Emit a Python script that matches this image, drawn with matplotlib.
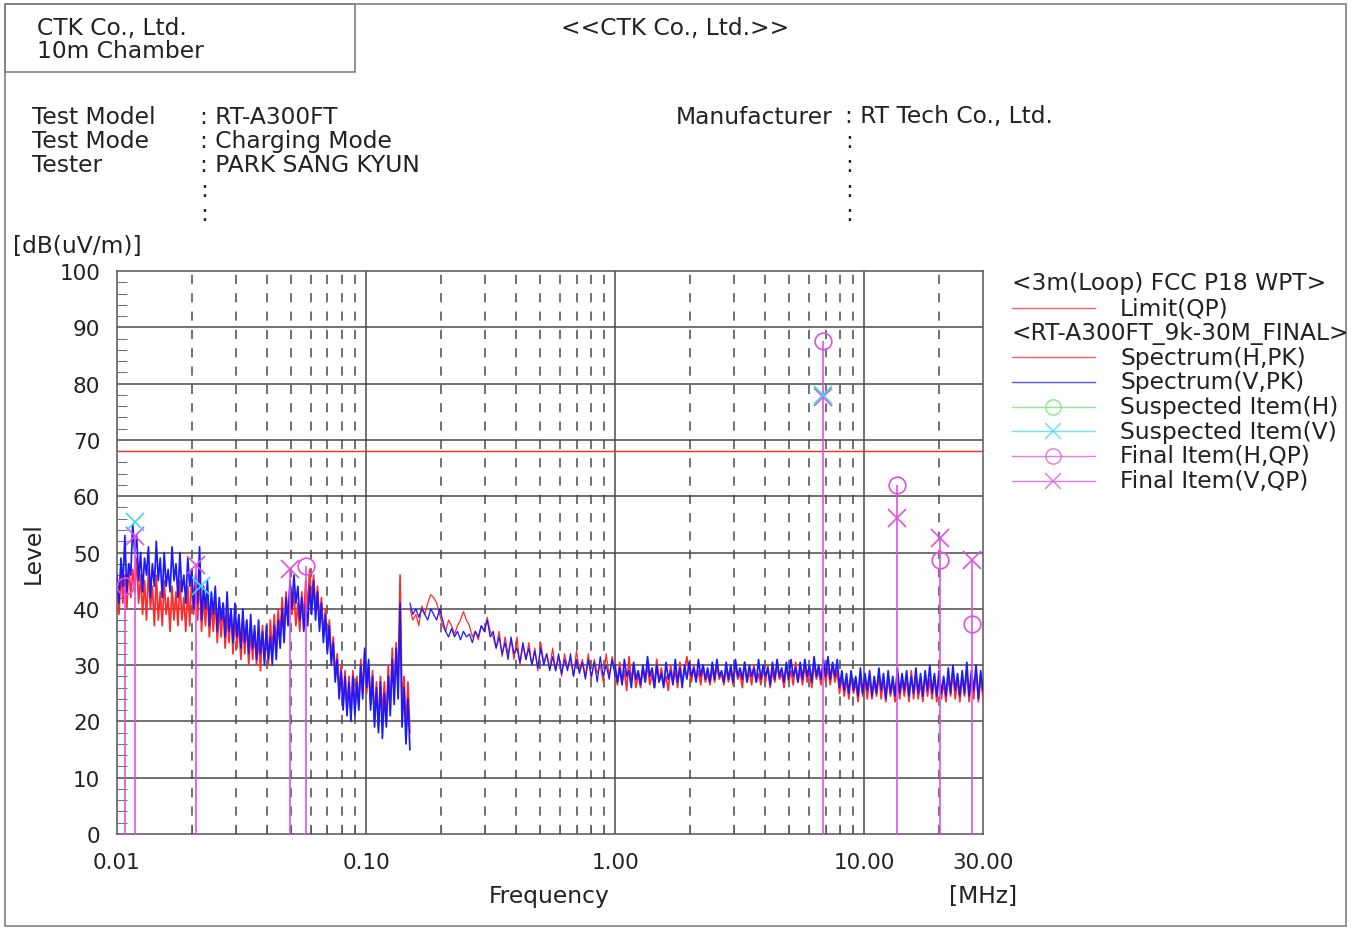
import numpy as np
import matplotlib
matplotlib.use("Agg")
from matplotlib import pyplot as plt
from matplotlib.patches import Rectangle
from matplotlib.lines import Line2D

plt.rcParams['font.family'] = ['DejaVu Sans']

W, H = 1356, 929

# ---- spectrum data (dBuV/m) ----
# band 1 : 0.01 - 0.15 MHz
seg1_f = np.geomspace(0.01, 0.15, 150)
seg1_v = [46, 41, 49, 44, 53, 43, 48, 46, 55, 50,
          53, 45, 50, 43, 49, 46, 51, 42, 48, 44,
          52, 45, 49, 42, 50, 44, 47, 43, 51, 45,
          48, 42, 50, 43, 46, 41, 49, 44, 47, 40,
          46, 41, 51, 38, 44, 40, 45, 37, 43, 39,
          44, 36, 42, 38, 41, 35, 43, 36, 40, 34,
          41, 35, 39, 33, 40, 34, 38, 32, 39, 33,
          37, 31, 38, 32, 36, 30, 37, 31, 35, 30,
          37, 31, 38, 33, 40, 34, 42, 37, 45, 40,
          46, 41, 44, 38, 42, 36, 41, 37, 44, 39,
          45, 38, 43, 36, 41, 34, 39, 32, 37, 30,
          34, 27, 31, 24, 29, 22, 28, 21, 27, 20,
          28, 21, 27, 22, 30, 24, 33, 26, 31, 22,
          28, 19, 26, 18, 27, 17, 25, 19, 28, 21,
          31, 23, 33, 24, 41, 19, 26, 16, 24, 15]
seg1_h = [44, 39, 47, 41, 46, 40, 48, 42, 47, 43,
          49, 41, 46, 39, 45, 38, 47, 40, 44, 37,
          46, 38, 43, 37, 45, 39, 42, 36, 44, 38,
          43, 37, 45, 38, 42, 36, 44, 37, 46, 39,
          44, 38, 46, 36, 42, 37, 43, 35, 41, 36,
          42, 34, 40, 35, 41, 33, 39, 34, 40, 32,
          39, 33, 38, 31, 37, 32, 38, 30, 36, 31,
          36, 30, 35, 29, 37, 31, 36, 30, 38, 32,
          39, 33, 40, 35, 42, 36, 43, 38, 44, 39,
          43, 37, 41, 36, 43, 38, 45, 40, 47, 41,
          46, 40, 44, 38, 42, 35, 40, 33, 38, 31,
          35, 28, 32, 25, 30, 23, 29, 22, 28, 21,
          29, 22, 28, 23, 31, 25, 32, 25, 30, 23,
          29, 20, 27, 19, 28, 21, 27, 20, 30, 22,
          33, 25, 34, 26, 46, 22, 28, 19, 27, 18]

# band 2a : 0.15 - 1 MHz
seg2a_f = np.geomspace(0.15, 1.0, 70)
seg2a_v = [41, 39, 40, 38.5, 40, 39, 38, 40, 39, 38,
           40, 38, 36, 35, 36.5, 35, 36, 34.5, 36, 35,
           35.5, 34, 36, 35, 37, 36, 38, 35, 36, 33,
           35, 32, 34, 31, 35, 32, 33, 30.5, 34, 31,
           33, 30, 32.5, 29.5, 33, 30, 32, 29, 31.5, 29,
           32, 28.5, 31, 29, 32, 28, 31, 28.5, 30.5, 27.5,
           31, 28, 30.5, 27, 31.5, 28, 30, 27.5, 31, 28]
seg2a_h = [40, 38, 39, 37, 40.5, 39, 41, 42.5, 42, 41,
           39, 37, 36, 38, 37, 35.5, 37, 38, 39.5, 38,
           37, 35, 36, 34.5, 37, 36, 38.5, 36, 35, 33,
           36, 31.5, 35, 32, 34.5, 31, 35, 30, 33.5, 31,
           34, 30, 33, 29, 34, 30.5, 32, 29.5, 33, 29,
           31.5, 28, 32, 29.5, 31, 28, 32.5, 29, 31, 28,
           32, 27.5, 31, 28.5, 30, 27, 32, 28, 31.5, 29]

# band 2b : 1 - 30 MHz
seg2b_f = np.geomspace(1.0, 30.0, 160)
seg2b_v = [30, 27, 29.5, 26.5, 31, 28, 29, 26, 30.5, 27.5,
           29, 26.5, 30, 27, 31.5, 28, 29.5, 26, 30, 27,
           28.5, 26, 30.5, 27.5, 29, 26.5, 31, 27, 29.5, 26,
           30, 27.5, 30.5, 28, 29.5, 27, 31, 28, 30, 27.5,
           29.5, 27, 30.5, 27.5, 31, 28, 29, 27, 30.5, 27.5,
           30, 27, 31, 28, 29.5, 27.5, 30.5, 27, 30, 28,
           29.5, 27, 31, 27.5, 30, 28, 29.5, 26.5, 30.5, 27.5,
           31, 28, 29.5, 27, 30.5, 27.5, 31, 28, 29.5, 27,
           30.5, 27.5, 31, 28, 30, 27, 31.5, 28, 30, 27.5,
           31, 28, 31.5, 27.5, 30.5, 28, 31, 26, 29, 25.5,
           28.5, 25, 29, 25.5, 28, 24.5, 29.5, 25, 28.5, 25.5,
           29, 24.5, 28, 25, 29.5, 25.5, 28.5, 24, 29, 25,
           28, 24.5, 29.5, 25, 28.5, 25.5, 29, 24.5, 28, 25,
           29.5, 25, 28.5, 24.5, 29, 25.5, 30, 25, 28.5, 24.5,
           29, 25, 28, 24.5, 29.5, 25, 30, 25.5, 28.5, 24.5,
           29, 25, 30.5, 24.5, 29, 25.5, 30, 24, 29, 25.5]
seg2b_h = [29, 26.5, 30.5, 27, 29, 25.5, 31.5, 27, 30, 26,
           28.5, 26, 29.5, 27, 30, 26.5, 28.5, 26, 31, 27,
           29.5, 26.5, 28, 25.5, 30, 27, 29, 26, 30.5, 27,
           29, 31.5, 29, 27, 30, 27.5, 29, 26.5, 30, 27,
           28.5, 26.5, 29.5, 27, 30, 27.5, 28.5, 26.5, 29.5, 27,
           29, 26.5, 30, 27.5, 28.5, 26, 30.5, 27, 29, 26.5,
           30, 27, 28.5, 26.5, 29.5, 27, 30, 26, 29, 27,
           30, 27.5, 28.5, 26, 30, 27, 29, 26.5, 30.5, 27,
           29, 26.5, 30, 27, 29, 26, 30.5, 27.5, 29, 26.5,
           30, 27, 29.5, 26.5, 30, 27, 29, 25, 28, 24.5,
           27.5, 24, 28.5, 25, 27, 23.5, 28, 24.5, 27.5, 24,
           28, 24, 27, 24.5, 28.5, 24, 27.5, 23.5, 28, 24.5,
           27, 23.5, 28.5, 24, 27.5, 24.5, 28, 23.5, 29, 24,
           28, 24, 27, 23.5, 28.5, 24.5, 27.5, 24, 28, 23.5,
           28.5, 24, 27, 23.5, 28, 24.5, 29, 24, 27.5, 23.5,
           28, 24.5, 29, 23.5, 28, 24, 29.5, 23.5, 28, 24]

limit_qp = 68.0

# final / suspected items
final_f = [0.0108, 0.0118, 0.0208, 0.0495, 0.0574, 6.84, 13.57, 20.2, 27.2]
final_h = [44.0, np.nan, np.nan, np.nan, 47.6, 87.6, 62.0, 48.7, 37.3]
final_v = [np.nan, 53.0, 47.8, 47.0, np.nan, 77.6, 56.1, 52.6, 48.7]
susp_v_f = [0.0118, 0.0218, 6.84]
susp_v = [55.5, 44.0, 78.0]

x_ticks = [0.01, 0.1, 1.0, 10.0, 30.0]
x_tick_labels = ['0.01', '0.10', '1.00', '10.00', '30.00']

RED = '#ff2a2a'
BLUE = '#1a1aff'
MAG = '#e050e0'
CYAN = '#40d8f0'
GREEN = '#70e070'


def fx(x):
    return x / W


def fy(y):
    return 1 - y / H


fig = plt.figure(figsize=(W / 100, H / 100), dpi=100)

# page frame and header box
fig.add_artist(Rectangle((fx(5), fy(927)), fx(1346) - fx(5), fy(5) - fy(927),
                         transform=fig.transFigure, fill=False, ec='#808080', lw=1.2))
fig.add_artist(Rectangle((fx(5), fy(73)), fx(355) - fx(5), fy(5) - fy(73),
                         transform=fig.transFigure, fill=False, ec='#808080', lw=1.2))

tkw = dict(fontsize=16.8, color='#222222', va='center')
fig.text(fx(37), fy(28), 'CTK Co., Ltd.', **tkw)
fig.text(fx(37), fy(52), '10m Chamber', **tkw)
fig.text(fx(675), fy(28), '<<CTK Co., Ltd.>>', ha='center', **tkw)

rows = [('Test Model', ': RT-A300FT'), ('Test Mode', ': Charging Mode'),
        ('Tester', ': PARK SANG KYUN'), ('', ':'), ('', ':')]
for i, (k, v) in enumerate(rows):
    y = 117 + i * 24.5
    fig.text(fx(32), fy(y), k, **tkw)
    fig.text(fx(200), fy(y), v, **tkw)
man_rows = [('Manufacturer', ': RT Tech Co., Ltd.'), ('', ':'), ('', ':'), ('', ':'), ('', ':')]
for i, (k, v) in enumerate(man_rows):
    y = 117 + i * 24.5
    fig.text(fx(676), fy(y), k, **tkw)
    fig.text(fx(845), fy(y), v, **tkw)

fig.text(fx(13), fy(246), '[dB(uV/m)]', **tkw)

# main axes
ax = fig.add_axes([fx(117), fy(835), fx(983) - fx(117), fy(272) - fy(835)])
ax.set_xscale('log')
ax.set_xlim(0.01, 30)
ax.set_ylim(0, 100)

for d in [0.01, 0.1, 1, 10]:
    for m in range(2, 10):
        if d * m < 30:
            ax.axvline(d * m, color='#4a4a4a', lw=1.1, ls=(0, (6, 6)), zorder=1)
for d in [0.1, 1, 10]:
    ax.axvline(d, color='#4a4a4a', lw=1.1, zorder=1)
for yv in range(10, 100, 10):
    ax.axhline(yv, color='#4a4a4a', lw=1.1, zorder=1)

ax.axhline(limit_qp, color=RED, lw=1.0, zorder=2)

ax.plot(seg1_f, seg1_h, color=RED, lw=1.25, zorder=3)
ax.plot(seg1_f, seg1_v, color=BLUE, lw=1.25, zorder=4)
ax.plot(seg2a_f, seg2a_h, color=RED, lw=0.9, zorder=3)
ax.plot(seg2a_f, seg2a_v, color=BLUE, lw=0.9, zorder=4)
ax.plot(seg2b_f, seg2b_h, color=RED, lw=1.25, zorder=3)
ax.plot(seg2b_f, seg2b_v, color=BLUE, lw=1.25, zorder=4)

stem_top = np.fmax(np.array(final_h), np.array(final_v))
ax.vlines(final_f, 0, stem_top, color=MAG, lw=1.2, zorder=5)
ax.plot(final_f, final_h, ls='none', marker='o', ms=12, mfc='none', mec=MAG, mew=1.2, zorder=6)
ax.plot(final_f, final_v, ls='none', marker='x', ms=13, mec=MAG, mew=1.2, zorder=6)
ax.plot(susp_v_f, susp_v, ls='none', marker='x', ms=13, mec=CYAN, mew=1.2, zorder=6)

ax.set_xticks(x_ticks)
ax.set_xticklabels(x_tick_labels)
ax.set_yticks(range(0, 101, 10))
ax.set_yticks(range(0, 101, 2), minor=True)
ax.tick_params(axis='x', which='major', length=0, pad=13, labelsize=15.5, labelcolor='#222222')
ax.tick_params(axis='x', which='minor', direction='in', length=6, labelbottom=False, color='#555555')
ax.tick_params(axis='y', which='major', direction='in', length=0, pad=12, labelsize=15.5,
               labelcolor='#222222')
ax.tick_params(axis='y', which='minor', direction='in', length=7, color='#555555')
for s in ax.spines.values():
    s.set_color('#555555')
    s.set_linewidth(1.1)

fig.text(fx(549), fy(897), 'Frequency', ha='center', **tkw)
fig.text(fx(983), fy(897), '[MHz]', ha='center', **tkw)
fig.text(fx(33), fy(553), 'Level', rotation=90, ha='center', **tkw)

# legend
lg = [
    ('<3m(Loop) FCC P18 WPT>', None),
    ('Limit(QP)', dict(color=RED)),
    ('<RT-A300FT_9k-30M_FINAL>', None),
    ('Spectrum(H,PK)', dict(color=RED)),
    ('Spectrum(V,PK)', dict(color=BLUE)),
    ('Suspected Item(H)', dict(color=GREEN, marker='o')),
    ('Suspected Item(V)', dict(color=CYAN, marker='x')),
    ('Final Item(H,QP)', dict(color=MAG, marker='o')),
    ('Final Item(V,QP)', dict(color=MAG, marker='x')),
]
for i, (lab, style) in enumerate(lg):
    y = 284 + i * 24.7
    if style is None:
        fig.text(fx(1012), fy(y), lab, **tkw)
    else:
        fig.add_artist(Line2D([fx(1012), fx(1095)], [fy(y), fy(y)], transform=fig.transFigure,
                              lw=1.0, alpha=0.75, color=style['color']))
        if 'marker' in style:
            fig.add_artist(Line2D([fx(1053)], [fy(y)], transform=fig.transFigure, ls='none',
                                  marker=style['marker'], ms=11, mfc='none', mec=style['color'],
                                  mew=1.1, alpha=0.75))
        fig.text(fx(1120), fy(y), lab, **tkw)

fig.savefig('out.png', dpi=100)
